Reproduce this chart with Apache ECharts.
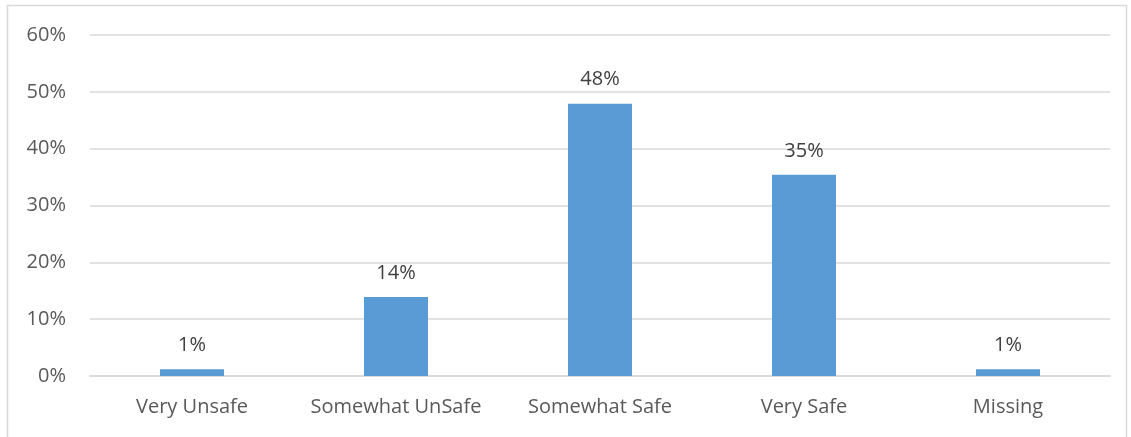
<!DOCTYPE html>
<html><head><meta charset="utf-8">
<script src="https://cdn.jsdelivr.net/npm/echarts@6/dist/echarts.min.js"></script>
<style>html,body{margin:0;padding:0;background:#fff}#c{width:1131px;height:437px}</style>
</head><body><div id="c"></div>
<script>
const categories = ["Very Unsafe", "Somewhat UnSafe", "Somewhat Safe", "Very Safe", "Missing"];
const values = [1.2, 13.9, 47.9, 35.4, 1.2];
const yTicks = [0, 10, 20, 30, 40, 50, 60];

const chart = echarts.init(document.getElementById('c'));
const font = '"Open Sans", "Noto Sans", sans-serif';
chart.setOption({
  animation: false,
  graphic: [{type:'rect', shape:{x:7.5,y:5.5,width:1119,height:440}, style:{fill:'none', stroke:'#d9d9d9', lineWidth:1.5}, silent:true}],
  grid: {left: 90, right: 21, top: 35, bottom: 61},
  xAxis: {
    type: 'category', data: categories,
    axisLine: {lineStyle: {color: '#d9d9d9', width: 1.5}},
    axisTick: {show: false},
    axisLabel: {color: '#595959', fontSize: 20, fontFamily: font, margin: 21, interval: 0, hideOverlap: false}
  },
  yAxis: {
    type: 'value', min: yTicks[0], max: yTicks[yTicks.length-1], interval: 10,
    axisLine: {show: false}, axisTick: {show: false},
    splitLine: {lineStyle: {color: '#d9d9d9', width: 1.5}},
    axisLabel: {color: '#595959', fontSize: 20, fontFamily: font, margin: 24, formatter: v => v + '%'}
  },
  series: [{
    type: 'bar', data: values, barWidth: 64,
    itemStyle: {color: '#5b9bd5'},
    label: {show: true, position: 'top', distance: 14, color: '#404040', fontSize: 20, fontFamily: font,
      formatter: p => Math.round(p.value) + '%'}
  }]
});
</script></body></html>
